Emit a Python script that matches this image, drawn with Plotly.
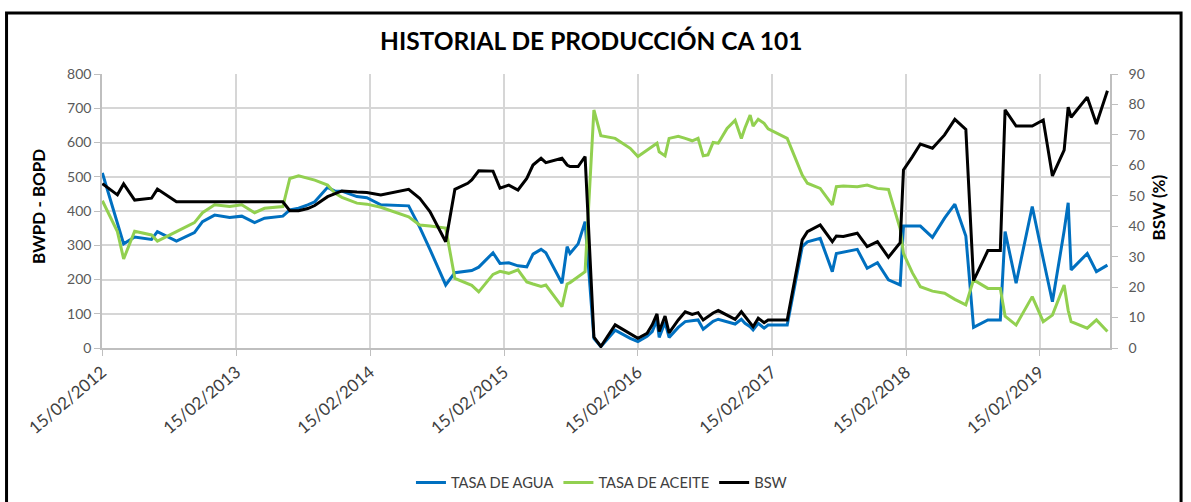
import plotly.graph_objects as go

FECHAS = [
    "2012-02-16", "2012-03-28", "2012-04-14", "2012-05-14", "2012-06-29", "2012-07-15", "2012-09-05", "2012-10-24", "2012-11-15", "2012-12-18",
    "2013-01-28", "2013-03-02", "2013-04-06", "2013-05-03", "2013-06-22", "2013-07-11", "2013-08-04", "2013-08-29", "2013-09-17", "2013-10-22",
    "2013-11-11", "2013-11-30", "2014-01-10", "2014-02-06", "2014-03-16", "2014-05-31", "2014-06-30", "2014-07-28", "2014-09-09", "2014-10-04",
    "2014-11-08", "2014-11-19", "2014-12-08", "2015-01-16", "2015-02-04", "2015-02-28", "2015-03-25", "2015-04-18", "2015-05-05", "2015-05-27",
    "2015-06-09", "2015-07-23", "2015-08-06", "2015-08-14", "2015-09-05", "2015-09-24", "2015-10-18", "2015-11-06", "2015-12-15", "2016-01-25",
    "2016-02-15", "2016-03-11", "2016-03-25", "2016-04-07", "2016-04-13", "2016-04-29", "2016-05-10", "2016-06-04", "2016-06-23", "2016-07-12",
    "2016-07-28", "2016-08-11", "2016-08-24", "2016-09-07", "2016-09-21", "2016-10-15", "2016-11-06", "2016-11-23", "2016-12-03", "2016-12-17",
    "2016-12-25", "2017-01-08", "2017-01-24", "2017-02-04", "2017-03-28", "2017-05-08", "2017-05-22", "2017-06-26", "2017-07-29", "2017-08-09",
    "2017-08-28", "2017-10-05", "2017-11-01", "2017-11-29", "2017-12-29", "2018-01-30", "2018-02-08", "2018-03-04", "2018-03-26", "2018-04-28",
    "2018-05-31", "2018-06-28", "2018-07-28", "2018-08-18", "2018-09-26", "2018-10-30", "2018-11-12", "2018-12-12", "2019-01-25", "2019-02-24",
    "2019-03-21", "2019-04-22", "2019-05-03", "2019-05-11", "2019-06-24", "2019-07-19", "2019-08-18",
]

TASA_AGUA = [
    511, 362, 304, 324, 317, 340, 312, 337, 369, 388,
    381, 385, 366, 379, 385, 403, 408, 418, 427, 469,
    458, 458, 442, 439, 418, 415, 353, 288, 184, 220,
    223, 226, 236, 278, 247, 249, 240, 237, 274, 288,
    278, 189, 296, 276, 304, 369, 28, 4, 52, 28,
    19, 34, 48, 82, 31, 75, 31, 60, 77, 80,
    82, 55, 67, 78, 84, 77, 70, 84, 72, 62,
    53, 72, 58, 67, 67, 296, 310, 320, 223, 276,
    280, 288, 233, 249, 199, 184, 356, 356, 356, 323,
    379, 420, 327, 60, 82, 82, 340, 189, 413, 260,
    135, 342, 424, 228, 276, 223, 242,
]

TASA_ACEITE = [
    430, 340, 260, 341, 330, 312, 340, 366, 395, 418,
    413, 418, 395, 408, 413, 495, 503, 495, 490, 476,
    452, 440, 423, 420, 411, 383, 359, 356, 350, 203,
    189, 183, 164, 215, 224, 218, 228, 193, 187, 180,
    184, 121, 187, 191, 208, 223, 695, 620, 612, 583,
    559, 578, 590, 598, 573, 561, 612, 618, 612, 605,
    612, 561, 564, 600, 598, 641, 665, 612, 643, 680,
    648, 668, 656, 640, 612, 505, 481, 466, 418, 471,
    473, 471, 476, 466, 463, 348, 276, 220, 179, 166,
    160, 142, 126, 199, 174, 174, 93, 67, 150, 77,
    96, 184, 110, 77, 58, 82, 48,
]

BSW = [
    54.0, 50.3, 53.9, 48.6, 49.2, 52.2, 48.0, 48.0, 48.2, 48.0,
    48.0, 48.1, 48.2, 48.0, 48.0, 45.1, 45.1, 45.8, 46.8, 49.7,
    50.8, 51.6, 51.2, 51.1, 50.3, 52.1, 49.2, 44.8, 34.9, 52.1,
    54.1, 55.2, 58.2, 58.1, 52.5, 53.5, 51.9, 55.7, 60.1, 62.3,
    60.9, 62.3, 60.1, 59.6, 59.6, 62.9, 3.6, 0.5, 7.6, 4.5,
    3.2, 4.8, 7.6, 11.2, 5.4, 10.5, 5.0, 9.2, 11.9, 11.0,
    11.6, 9.2, 10.3, 11.5, 12.3, 10.8, 9.4, 11.9, 10.3, 8.3,
    7.0, 9.8, 8.3, 9.2, 9.2, 35.5, 38.2, 40.4, 34.9, 36.8,
    36.6, 37.7, 33.3, 34.9, 29.8, 34.6, 58.5, 62.8, 67.0, 65.6,
    70.0, 75.1, 71.8, 22.1, 32.0, 32.0, 78.2, 72.9, 72.9, 74.9,
    56.5, 65.0, 79.1, 75.8, 82.4, 73.6, 84.5,
]

TICK_FECHAS = ["2012-02-15", "2013-02-15", "2014-02-15", "2015-02-15",
               "2016-02-15", "2017-02-15", "2018-02-15", "2019-02-15"]
TICK_LABELS = ["15/02/2012", "15/02/2013", "15/02/2014", "15/02/2015",
               "15/02/2016", "15/02/2017", "15/02/2018", "15/02/2019"]

TITULO = "HISTORIAL DE PRODUCCIÓN CA 101"
TITULO_Y = "BWPD - BOPD"
TITULO_Y2 = "BSW (%)"

FONT = "Lato, 'Open Sans', sans-serif"
GRID = "#d6d6d6"
AXIS = "#bfbfbf"

fig = go.Figure()
fig.add_trace(go.Scatter(x=FECHAS, y=TASA_AGUA, name="TASA DE AGUA", mode="lines",
                         line=dict(color="#0070C0", width=3)))
fig.add_trace(go.Scatter(x=FECHAS, y=TASA_ACEITE, name="TASA DE ACEITE", mode="lines",
                         line=dict(color="#92D050", width=3)))
fig.add_trace(go.Scatter(x=FECHAS, y=BSW, name="BSW", mode="lines", yaxis="y2",
                         line=dict(color="#000000", width=3)))

fig.update_layout(
    width=1191, height=502,
    margin=dict(l=102, r=81, t=74, b=154),
    paper_bgcolor="white", plot_bgcolor="white",
    font=dict(family=FONT, color="#595959"),
    showlegend=True,
    legend=dict(orientation="h", xref="paper", yref="container",
                x=0.4955, xanchor="center", y=0.038, yanchor="middle",
                font=dict(family=FONT, size=14.7, color="#404040"),
                bgcolor="rgba(0,0,0,0)"),
    xaxis=dict(type="date", range=["2012-02-15", "2019-08-25"],
               tickmode="array", tickvals=TICK_FECHAS, ticktext=TICK_LABELS,
               tickangle=-40, tickfont=dict(family=FONT, size=17, color="#404040"),
               showgrid=True, gridcolor=GRID, gridwidth=1.5,
               showline=True, linecolor=AXIS, linewidth=1.5,
               ticks="outside", ticklen=6, tickcolor=AXIS, zeroline=False),
    yaxis=dict(range=[0, 800], tickmode="linear", tick0=0, dtick=100,
               tickfont=dict(family=FONT, size=14, color="#595959"),
               showgrid=True, gridcolor=GRID, gridwidth=1.5,
               showline=True, linecolor=AXIS, linewidth=1.5,
               ticks="outside", ticklen=6, tickcolor=AXIS, zeroline=False),
    yaxis2=dict(range=[0, 90], tickmode="linear", tick0=0, dtick=10,
                overlaying="y", side="right",
                tickfont=dict(family=FONT, size=14, color="#595959"),
                ticklabelstandoff=8,
                showgrid=False, showline=True, linecolor=AXIS, linewidth=1.5,
                ticks="outside", ticklen=6, tickcolor=AXIS, zeroline=False),
    shapes=[dict(type="rect", xref="paper", yref="paper",
                 x0=-0.0947, x1=1.0705, y0=-1.0, y1=1.2226,
                 line=dict(color="black", width=3), fillcolor="rgba(0,0,0,0)",
                 layer="above")],
    annotations=[
        dict(text="<b>" + TITULO + "</b>", xref="paper", yref="paper",
             x=0.4856, y=1.124, showarrow=False, xanchor="center", yanchor="middle",
             font=dict(family=FONT, size=24.5, color="#000000")),
        dict(text="<b>" + TITULO_Y + "</b>", xref="paper", yref="paper",
             x=-0.0635, y=0.518, showarrow=False, textangle=-90,
             xanchor="center", yanchor="middle",
             font=dict(family=FONT, size=17, color="#000000")),
        dict(text="<b>" + TITULO_Y2 + "</b>", xref="paper", yref="paper",
             x=1.0476, y=0.513, showarrow=False, textangle=-90,
             xanchor="center", yanchor="middle",
             font=dict(family=FONT, size=17, color="#000000")),
    ],
)

fig.write_html("out.html", config={"displayModeBar": False},
               post_script="document.body.style.margin='0px';document.body.style.padding='0px';")
